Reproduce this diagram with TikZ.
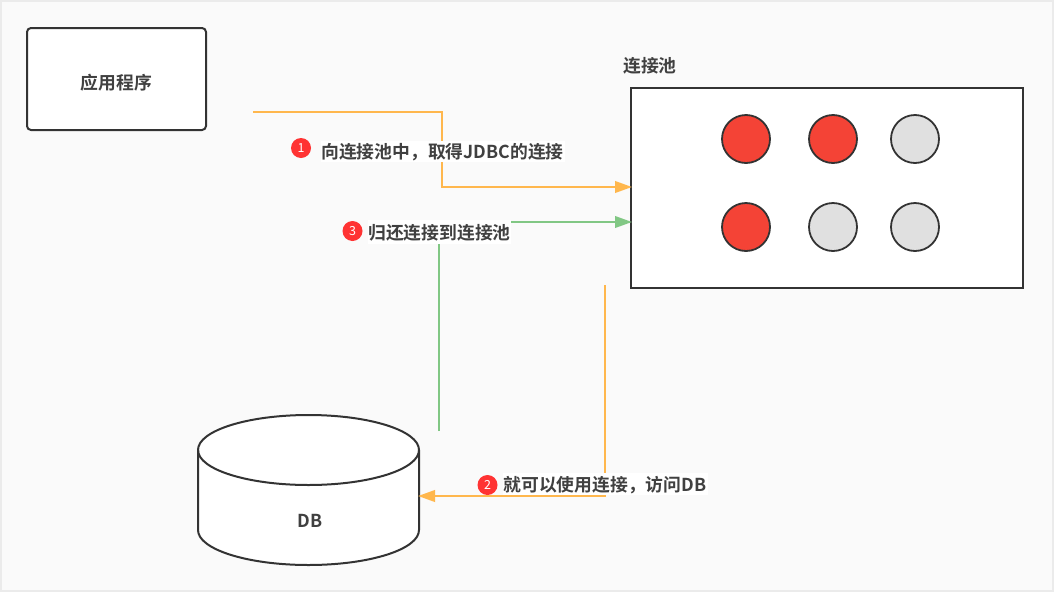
\documentclass[tikz,border=0pt]{standalone}
\usepackage{fontspec}
\setmainfont{Noto Sans CJK SC}[BoldFont={Noto Sans CJK SC Bold}]
\usetikzlibrary{arrows.meta}
\definecolor{ink}{HTML}{333333}
\definecolor{txt}{HTML}{404040}
\definecolor{orangeln}{HTML}{FFB74D}
\definecolor{greenln}{HTML}{81C784}
\definecolor{redc}{HTML}{F44336}
\definecolor{greyc}{HTML}{E0E0E0}
\newcommand{\lowr}[1]{\raisebox{-2.5pt}[13pt][3pt]{#1}}
\tikzset{
  box/.style={draw=ink,line width=2pt,fill=white,inner sep=0pt},
  conn/.style={draw=ink,circle,line width=1.8pt,minimum size=48pt,inner sep=0pt},
  used/.style={conn,fill=redc},
  idle/.style={conn,fill=greyc},
  lab/.style={font=\fontsize{17.8pt}{20pt}\selectfont\bfseries,text=txt,inner sep=0pt,fill=white},
  plain/.style={font=\fontsize{17.8pt}{20pt}\selectfont\bfseries,text=txt,inner sep=0pt},
  badge/.style={circle,fill=red!80!white,text=white,font=\fontsize{12.5pt}{13pt}\selectfont,minimum size=20pt,inner sep=0pt},
  oline/.style={draw=orangeln,line width=2.4pt,-{Triangle[length=17pt,width=11.5pt]}},
  gline/.style={draw=greenln,line width=2.2pt,-{Triangle[length=17pt,width=11.5pt]}},
}
\begin{document}
\begin{tikzpicture}[x=1pt,y=-1pt]
\useasboundingbox (0,0) rectangle (1054,592);
\fill[white!92!black] (0,0) rectangle (1054,592);
\fill[white!98!black] (2,2) rectangle (1052,590);
\node[box,rounded corners=4pt,minimum width=179pt,minimum height=102pt] (app) at (116.5,79) {};
\node[plain] (applab) at (116.5,82) {\lowr{应用程序}};
\node[box,minimum width=392pt,minimum height=200pt] (pool) at (827,188) {};
\node[plain] (poollab) at (650,65) {\lowr{连接池}};
\node[used] (c1) at (746,139) {};
\node[used] (c2) at (833,139) {};
\node[idle] (c3) at (915,139) {};
\node[used] (c4) at (746,227) {};
\node[idle] (c5) at (833,227) {};
\node[idle] (c6) at (915,227) {};
% database cylinder
\draw[draw=ink,line width=2pt,fill=white] (198,450) arc[start angle=180,end angle=0,x radius=110.5pt,y radius=35pt] -- (419,530) arc[start angle=0,end angle=-180,x radius=110.5pt,y radius=35pt] -- cycle;
\draw[draw=ink,line width=2pt] (198,450) arc[start angle=180,end angle=360,x radius=110.5pt,y radius=35pt];
\node[plain] (dblab) at (310,520) {\lowr{DB}};
\coordinate (o1s) at (253,112);
\coordinate (o1e) at (632,187);
\coordinate (o2s) at (605,285);
\coordinate (o2e) at (418,496);
\coordinate (g1s) at (439,431);
\coordinate (g1e) at (632,222);
\draw[oline] (o1s) -- (442,112) -- (442,187) -- (o1e);
\draw[gline] (g1s) -- (439,222) -- (g1e);
\draw[oline] (o2s) -- (605,496) -- (o2e);
\node[lab,minimum width=244pt,minimum height=21pt] (l1) at (442.5,151) {\lowr{向连接池中，取得JDBC的连接}};
\node[lab,minimum width=142pt,minimum height=24pt] (l3) at (439.5,232) {\lowr{归还连接到连接池}};
\node[lab,minimum width=205pt,minimum height=22pt] (l2) at (605,484) {\lowr{就可以使用连接，访问DB}};
\node[badge] (b1) at (301,148) {1};
\node[badge] (b3) at (352.5,231) {3};
\node[badge] (b2) at (487.5,485) {2};
\end{tikzpicture}
\end{document}
